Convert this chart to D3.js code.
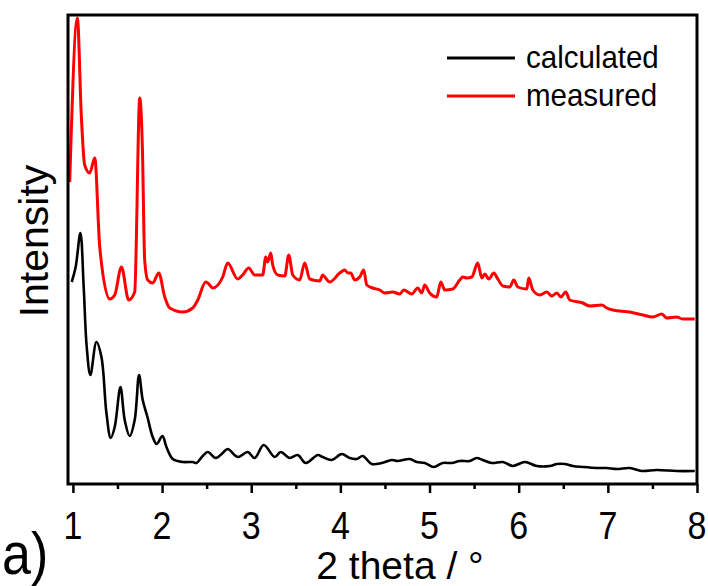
<!DOCTYPE html>
<html>
<head>
<meta charset="utf-8">
<script src="https://cdn.jsdelivr.net/npm/d3@7"></script>
<style>
  body { margin: 0; background: #fff; }
  svg { display: block; font-family: Arial, "Liberation Sans", sans-serif; }
</style>
</head>
<body>
<svg id="chart" width="708" height="586"></svg>
<script>
// 2 theta (deg) and intensity (a.u.)
const measuredX = [0.964, 1.050, 1.095, 1.132, 1.188, 1.245, 1.301, 1.413, 1.469, 1.544, 1.626, 1.693, 1.750, 1.780,
  1.805, 1.839, 1.895, 1.963, 2.030, 2.086, 2.232, 2.344, 2.400, 2.490, 2.513, 2.569, 2.680, 2.736, 2.848, 2.904,
  2.972, 3.039, 3.129, 3.163, 3.185, 3.219, 3.241, 3.297, 3.376, 3.421, 3.466, 3.544, 3.600, 3.656, 3.768, 3.802,
  3.825, 3.881, 3.993, 4.049, 4.083, 4.116, 4.161, 4.217, 4.262, 4.296, 4.363, 4.442, 4.498, 4.588, 4.666, 4.711,
  4.801, 4.868, 4.913, 4.946, 5.002, 5.081, 5.126, 5.171, 5.260, 5.339, 5.373, 5.418, 5.474, 5.541, 5.586, 5.620,
  5.665, 5.721, 5.766, 5.822, 5.900, 5.945, 5.990, 6.091, 6.113, 6.158, 6.237, 6.315, 6.371, 6.428, 6.473, 6.528,
  6.573, 6.719, 6.798, 6.932, 6.988, 7.056, 7.247, 7.392, 7.504, 7.605, 7.661, 7.773, 7.840, 7.975];
const measuredY = [302, 466, 367, 319, 311, 326, 237, 185, 189, 217, 184, 192, 386, 334,
  224, 204, 201, 211, 187, 176, 172, 176, 184, 202, 201, 196, 207, 221, 205, 209,
  216, 209, 209, 227, 222, 231, 219, 209, 208, 229, 209, 204, 221, 205, 203, 209,
  207, 202, 211, 214, 211, 211, 204, 207, 214, 199, 196, 194, 191, 192, 190, 194,
  190, 196, 191, 199, 191, 187, 202, 194, 195, 204, 207, 206, 207, 221, 206, 210,
  205, 211, 205, 198, 197, 204, 197, 195, 206, 194, 189, 192, 188, 191, 187, 192,
  184, 181, 178, 179, 176, 174, 172, 169, 167, 170, 166, 167, 165, 165];

const calculatedX = [0.987, 1.031, 1.084, 1.121, 1.155, 1.196, 1.264, 1.320, 1.376, 1.424, 1.469, 1.533, 1.581,
  1.637, 1.693, 1.742, 1.783, 1.836, 1.895, 1.940, 2.004, 2.049, 2.120, 2.232, 2.344, 2.385, 2.456, 2.512, 2.602,
  2.680, 2.736, 2.848, 2.961, 3.039, 3.140, 3.264, 3.331, 3.432, 3.522, 3.612, 3.746, 3.802, 3.903, 4.015, 4.105,
  4.183, 4.251, 4.352, 4.464, 4.576, 4.643, 4.778, 4.856, 4.946, 5.047, 5.148, 5.249, 5.339, 5.451, 5.530, 5.597,
  5.698, 5.822, 5.934, 6.069, 6.203, 6.349, 6.428, 6.517, 6.607, 6.719, 6.876, 6.988, 7.100, 7.247, 7.381, 7.549,
  7.773, 7.975];
const calculatedY = [202, 217, 251, 197, 137, 109, 142, 127, 71, 46, 57, 97, 64,
  48, 64, 109, 84, 67, 47, 40, 48, 37, 25, 22, 22, 21, 28, 32, 26,
  31, 35, 27, 32, 26, 39, 27, 32, 26, 29, 21, 29, 27, 24, 30, 26,
  25, 28, 20, 21, 24, 23, 25, 22, 21, 17, 21, 21, 23, 23, 26, 24,
  21, 22, 18, 22, 18, 18, 20, 20, 18, 17, 16, 16, 15, 16, 13, 14,
  13, 13];

const majorTicks = [1, 2, 3, 4, 5, 6, 7, 8];
const minorTicks = [1.5, 2.5, 3.5, 4.5, 5.5, 6.5, 7.5];
const legendNames = ['calculated', 'measured'];
const legendColors = ['#000000', '#ff0000'];

const svg = d3.select('#chart');
const plotLeft = 68, plotRight = 697, plotTop = 15, plotBottom = 484;

const x = d3.scaleLinear().domain([0.945, 8]).range([plotLeft, plotRight]);
const y = d3.scaleLinear().domain([0, 469]).range([plotBottom, plotTop]);

svg.append('rect').attr('width', 708).attr('height', 586).attr('fill', '#fff');

const calcLine = d3.line()
    .x(d => x(d[0]))
    .y(d => y(d[1]))
    .curve(d3.curveCatmullRom.alpha(0.5));
const measLine = d3.line()
    .x(d => x(d[0]))
    .y(d => y(d[1]))
    .curve(d3.curveMonotoneX);

svg.append('path')
    .datum(d3.zip(calculatedX, calculatedY))
    .attr('d', calcLine)
    .attr('fill', 'none').attr('stroke', legendColors[0])
    .attr('stroke-width', 2.6).attr('stroke-linejoin', 'round');

svg.append('path')
    .datum(d3.zip(measuredX, measuredY))
    .attr('d', measLine)
    .attr('fill', 'none').attr('stroke', legendColors[1])
    .attr('stroke-width', 3).attr('stroke-linejoin', 'round');

// frame
svg.append('rect')
    .attr('x', plotLeft).attr('y', plotTop)
    .attr('width', plotRight - plotLeft).attr('height', plotBottom - plotTop)
    .attr('fill', 'none').attr('stroke', '#000').attr('stroke-width', 3);

// x axis ticks (labels drawn below, slightly stretched like the original figure)
const gx = svg.append('g').attr('transform', `translate(0,${plotBottom})`)
    .call(d3.axisBottom(x).tickValues(majorTicks).tickSize(9).tickFormat(''));
gx.select('.domain').remove();
gx.selectAll('line').attr('stroke', '#000').attr('stroke-width', 2.5);

const gm = svg.append('g').attr('transform', `translate(0,${plotBottom})`)
    .call(d3.axisBottom(x).tickValues(minorTicks).tickSize(5).tickFormat(''));
gm.select('.domain').remove();
gm.selectAll('line').attr('stroke', '#000').attr('stroke-width', 2.5);

svg.append('g').selectAll('text')
    .data(majorTicks)
    .join('text')
    .attr('transform', d => `translate(${x(d)},539) scale(1,1.15)`)
    .attr('text-anchor', 'middle')
    .attr('font-size', 34)
    .text(d3.format('d'));

// axis titles
svg.append('text')
    .attr('transform', 'translate(400,579)')
    .attr('text-anchor', 'middle').attr('font-size', 39)
    .text('2 theta / °');

svg.append('text')
    .attr('transform', 'translate(48,241) rotate(-90)')
    .attr('text-anchor', 'middle').attr('font-size', 41)
    .text('Intensity');

svg.append('text')
    .attr('transform', 'translate(2,574) scale(1,1.15)')
    .attr('font-size', 52)
    .text('a)');

// legend
const legend = svg.append('g');
legendNames.forEach((name, i) => {
    const ly = 58 + i * 38;
    legend.append('line')
        .attr('x1', 447).attr('x2', 515).attr('y1', ly).attr('y2', ly)
        .attr('stroke', legendColors[i]).attr('stroke-width', 2.8);
    legend.append('text')
        .attr('transform', `translate(526,${ly + 10}) scale(1,1.08)`)
        .attr('font-size', 29.5)
        .text(name);
});
</script>
</body>
</html>
